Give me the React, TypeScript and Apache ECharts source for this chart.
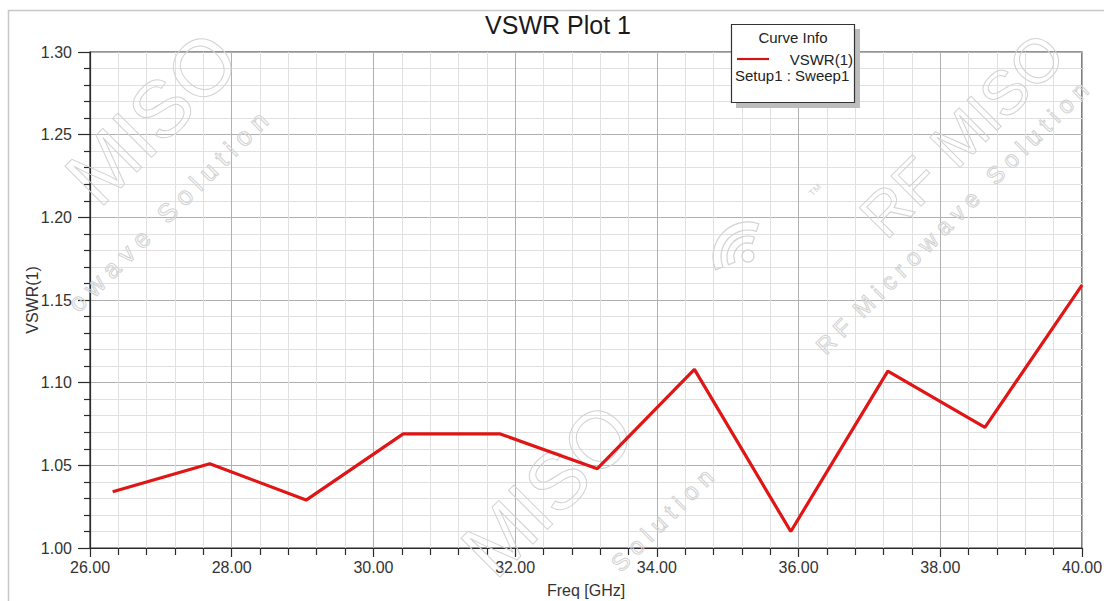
import React, { useEffect, useRef } from "react";
import * as echarts from "echarts";

const freqGHz = [26.32, 27.69, 29.05, 30.42, 31.79, 33.16, 34.53, 35.89, 37.26, 38.63, 40.0];
const vswr = [1.034, 1.051, 1.029, 1.069, 1.069, 1.048, 1.108, 1.010, 1.107, 1.073, 1.159];
const xTicks = { min: 26, max: 40, interval: 2 };
const yTicks = { min: 1.0, max: 1.3, interval: 0.05 };
const titleText = "VSWR Plot 1";
const xName = "Freq [GHz]";
const yName = "VSWR(1)";
const legendTitle = "Curve Info";
const legendSeries = "VSWR(1)";
const legendSetup = "Setup1 : Sweep1";

const FONT = "'Liberation Sans', Arial, sans-serif";
const WM = "#d2d2d2";

function wm(text: string, x: number, y: number, size: number) {
  return {
    type: "text",
    x,
    y,
    rotation: Math.PI / 4,
    silent: true,
    z: 1,
    style: {
      text,
      font: `${size}px ${FONT}`,
      fill: "none",
      stroke: WM,
      lineWidth: 1,
      textAlign: "center",
      textVerticalAlign: "middle",
    },
  };
}

function band(cx: number, cy: number, r0: number, r: number) {
  return {
    type: "sector",
    silent: true,
    z: 1,
    shape: { cx, cy, r0, r, startAngle: Math.PI * 0.88, endAngle: Math.PI * 1.6, clockwise: true },
    style: { fill: "none", stroke: WM, lineWidth: 1.2 },
  };
}

export default function App() {
  const ref = useRef<HTMLDivElement>(null);
  useEffect(() => {
    if (!ref.current) return;
    const chart = echarts.init(ref.current, null, { renderer: "svg" });
    const data = freqGHz.map((f, i) => [f, vswr[i]]);
    chart.setOption({
      animation: false,
      backgroundColor: "#ffffff",
      grid: {
        left: 90,
        top: 52,
        right: 22,
        bottom: 53,
        outerBoundsMode: "none",
        containLabel: false,
        show: true,
        borderColor: "#2a2a2a",
        borderWidth: 1.2,
        backgroundColor: "transparent",
      },
      xAxis: {
        type: "value",
        min: xTicks.min,
        max: xTicks.max,
        interval: xTicks.interval,
        name: xName,
        nameLocation: "middle",
        nameGap: 34,
        nameMoveOverlap: false,
        nameTextStyle: { fontFamily: FONT, fontSize: 16, color: "#333" },
        axisLine: { show: true, lineStyle: { color: "#2a2a2a", width: 1.2 } },
        axisTick: { show: true, length: 9, lineStyle: { color: "#2a2a2a", width: 1.2 } },
        minorTick: { show: true, splitNumber: 5, length: 7, lineStyle: { color: "#2a2a2a", width: 1.2 } },
        splitLine: { show: true, lineStyle: { color: "#b0b0b0", width: 1 } },
        minorSplitLine: { show: true, lineStyle: { color: "#e0e0e0", width: 1 } },
        axisLabel: {
          margin: 11,
          fontFamily: FONT,
          fontSize: 16,
          color: "#333",
          formatter: (v: number) => v.toFixed(2),
        },
      },
      yAxis: {
        type: "value",
        min: yTicks.min,
        max: yTicks.max,
        interval: yTicks.interval,
        name: yName,
        nameLocation: "middle",
        nameGap: 50,
        nameMoveOverlap: false,
        nameTextStyle: { fontFamily: FONT, fontSize: 16, color: "#333" },
        axisLine: { show: true, lineStyle: { color: "#2a2a2a", width: 1.2 } },
        axisTick: { show: true, length: 12, lineStyle: { color: "#2a2a2a", width: 1.2 } },
        minorTick: { show: true, splitNumber: 5, length: 6, lineStyle: { color: "#2a2a2a", width: 1.2 } },
        splitLine: { show: true, lineStyle: { color: "#b0b0b0", width: 1 } },
        minorSplitLine: { show: true, lineStyle: { color: "#e0e0e0", width: 1 } },
        axisLabel: {
          margin: 18,
          fontFamily: FONT,
          fontSize: 16,
          color: "#333",
          formatter: (v: number) => v.toFixed(2),
        },
      },
      series: [
        {
          type: "line",
          data,
          symbol: "none",
          z: 5,
          lineStyle: { color: "#e01515", width: 3.2 },
        },
      ],
      graphic: [
        {
          type: "rect",
          shape: { x: 8.5, y: 10.5, width: 1200, height: 700 },
          style: { fill: "none", stroke: "#c8c8c8", lineWidth: 1.5 },
          silent: true,
          z: 0,
        },
        {
          type: "text",
          x: 558,
          y: 25,
          z: 3,
          style: { text: titleText, font: `25px ${FONT}`, fill: "#1a1a1a", textAlign: "center", textVerticalAlign: "middle" },
        },
        wm("MISO", 152, 118, 80),
        wm("o w a v e   S o l u t i o n", 168, 212, 26),
        wm("RF MISO", 962, 135, 62),
        wm("R F  M i c r o w a v e   S o l u t i o n", 952, 218, 24),
        wm("MISO", 548, 490, 80),
        wm("S o l u t i o n", 662, 520, 24),
        band(748, 257, 14, 21),
        band(748, 257, 27, 35),
        {
          type: "circle",
          silent: true,
          z: 1,
          shape: { cx: 748, cy: 256, r: 6 },
          style: { fill: "none", stroke: WM, lineWidth: 1.2 },
        },
        {
          type: "text",
          x: 815,
          y: 190,
          rotation: Math.PI / 4,
          z: 1,
          silent: true,
          style: { text: "TM", font: `9px ${FONT}`, fill: "#cfcfcf", textAlign: "center", textVerticalAlign: "middle" },
        },
        {
          type: "rect",
          shape: { x: 736, y: 29, width: 124, height: 79 },
          style: { fill: "#bdbdbd" },
          silent: true,
          z: 20,
        },
        {
          type: "rect",
          shape: { x: 731.5, y: 24.5, width: 123, height: 78 },
          style: { fill: "#ffffff", stroke: "#333", lineWidth: 1.2 },
          silent: true,
          z: 21,
        },
        {
          type: "text",
          x: 793,
          y: 37,
          z: 22,
          style: { text: legendTitle, font: `15px ${FONT}`, fill: "#222", textAlign: "center", textVerticalAlign: "middle" },
        },
        {
          type: "line",
          z: 22,
          shape: { x1: 737, y1: 59, x2: 769, y2: 59 },
          style: { stroke: "#d01515", lineWidth: 2.2 },
        },
        {
          type: "text",
          x: 853,
          y: 59,
          z: 22,
          style: { text: legendSeries, font: `15px ${FONT}`, fill: "#222", textAlign: "right", textVerticalAlign: "middle" },
        },
        {
          type: "text",
          x: 735,
          y: 75,
          z: 22,
          style: { text: legendSetup, font: `15px ${FONT}`, fill: "#222", textAlign: "left", textVerticalAlign: "middle" },
        },
      ],
    });
    return () => chart.dispose();
  }, []);
  return (
    <div
      ref={ref}
      style={{ position: "fixed", left: 0, top: 0, width: 1104, height: 601, background: "#fff" }}
    />
  );
}
